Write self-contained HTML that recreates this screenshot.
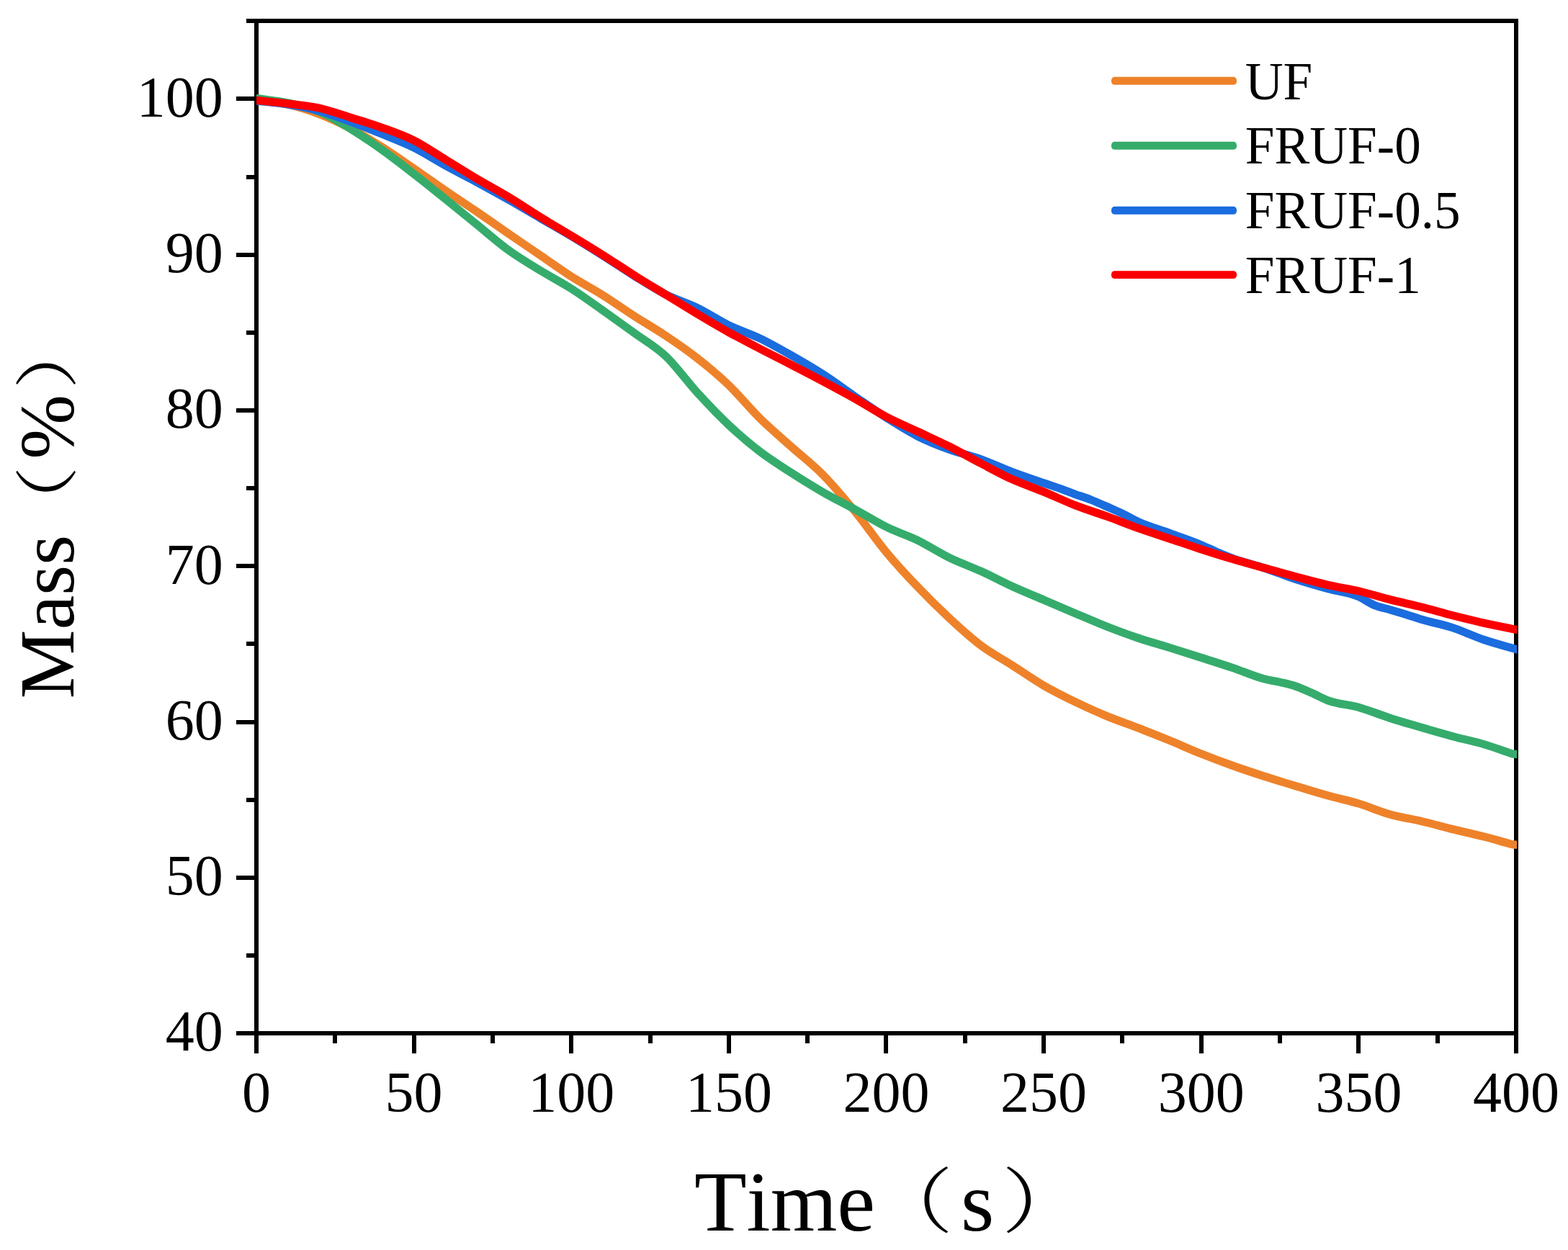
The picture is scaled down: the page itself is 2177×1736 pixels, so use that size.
<!DOCTYPE html>
<html lang="en">
<head>
<meta charset="utf-8">
<title>Mass vs Time</title>
<style>
html,body{margin:0;padding:0;background:#fff;}
body{width:2177px;height:1736px;overflow:hidden;}
svg{display:block;}
text{font-family:"Liberation Serif","Noto Serif CJK SC",serif;fill:#000;font-kerning:none;}
.tick{font-size:80px;}
.leg{font-size:73.2px;}
.cjk{font-family:"Liberation Serif","Noto Serif CJK SC",serif;font-size:100px;}
</style>
</head>
<body>
<svg width="2177" height="1736" viewBox="0 0 2177 1736">
<defs><clipPath id="plot"><rect x="356" y="20" width="1750" height="1420"/></clipPath></defs>
<rect x="0" y="0" width="2177" height="1736" fill="#fff"/>
<g fill="#000" shape-rendering="crispEdges">
<rect x="353" y="26" width="1755" height="6"/>
<rect x="353" y="1432" width="1755" height="6"/>
<rect x="353" y="26" width="6" height="1412"/>
<rect x="2102" y="26" width="6" height="1412"/>
<rect x="328" y="1432" width="25" height="6"/>
<rect x="342" y="1324" width="11" height="6"/>
<rect x="328" y="1216" width="25" height="6"/>
<rect x="342" y="1108" width="11" height="6"/>
<rect x="328" y="1000" width="25" height="6"/>
<rect x="342" y="891" width="11" height="6"/>
<rect x="328" y="783" width="25" height="6"/>
<rect x="342" y="675" width="11" height="6"/>
<rect x="328" y="567" width="25" height="6"/>
<rect x="342" y="459" width="11" height="6"/>
<rect x="328" y="351" width="25" height="6"/>
<rect x="342" y="243" width="11" height="6"/>
<rect x="328" y="134" width="25" height="6"/>
<rect x="342" y="26" width="11" height="6"/>
<rect x="353" y="1438" width="6" height="25"/>
<rect x="462" y="1438" width="6" height="11"/>
<rect x="572" y="1438" width="6" height="25"/>
<rect x="681" y="1438" width="6" height="11"/>
<rect x="790" y="1438" width="6" height="25"/>
<rect x="900" y="1438" width="6" height="11"/>
<rect x="1009" y="1438" width="6" height="25"/>
<rect x="1118" y="1438" width="6" height="11"/>
<rect x="1227" y="1438" width="6" height="25"/>
<rect x="1337" y="1438" width="6" height="11"/>
<rect x="1446" y="1438" width="6" height="25"/>
<rect x="1555" y="1438" width="6" height="11"/>
<rect x="1665" y="1438" width="6" height="25"/>
<rect x="1774" y="1438" width="6" height="11"/>
<rect x="1883" y="1438" width="6" height="25"/>
<rect x="1993" y="1438" width="6" height="11"/>
<rect x="2102" y="1438" width="6" height="25"/>
</g>
<g class="tick">
<text x="309.8" y="161.6" text-anchor="end">100</text>
<text x="309.8" y="377.9" text-anchor="end">90</text>
<text x="309.8" y="594.2" text-anchor="end">80</text>
<text x="309.8" y="810.5" text-anchor="end">70</text>
<text x="309.8" y="1026.8" text-anchor="end">60</text>
<text x="309.8" y="1243.1" text-anchor="end">50</text>
<text x="309.8" y="1459.4" text-anchor="end">40</text>
<text x="356.0" y="1544.3" text-anchor="middle">0</text>
<text x="574.6" y="1544.3" text-anchor="middle">50</text>
<text x="793.2" y="1544.3" text-anchor="middle">100</text>
<text x="1011.9" y="1544.3" text-anchor="middle">150</text>
<text x="1230.5" y="1544.3" text-anchor="middle">200</text>
<text x="1449.1" y="1544.3" text-anchor="middle">250</text>
<text x="1667.8" y="1544.3" text-anchor="middle">300</text>
<text x="1886.4" y="1544.3" text-anchor="middle">350</text>
<text x="2105.0" y="1544.3" text-anchor="middle">400</text>
</g>
<g fill="none" stroke-width="11.2" stroke-linejoin="round" stroke-linecap="butt" clip-path="url(#plot)">
<path stroke="#EE822A" d="M348.0 138.5C350.7 138.8 353.3 139.2 356.0 139.5C370.6 141.3 385.2 141.8 399.7 145.0C414.3 148.2 428.9 152.9 443.4 158.5C458.0 164.1 472.6 170.9 487.2 178.6C501.8 186.3 516.3 195.3 530.9 204.5C545.5 213.7 560.0 224.0 574.6 234.0C589.2 244.0 603.8 254.6 618.4 264.6C632.9 274.6 647.5 284.1 662.1 294.0C676.6 303.9 691.2 314.3 705.8 324.3C720.4 334.3 734.9 344.2 749.5 354.2C764.1 364.1 778.7 374.7 793.2 384.0C807.8 393.3 822.4 400.8 837.0 410.0C851.6 419.2 866.1 429.6 880.7 439.0C895.3 448.4 909.9 456.6 924.4 466.4C939.0 476.1 953.6 486.1 968.1 497.5C982.7 508.9 997.3 521.0 1011.9 535.0C1026.5 549.0 1041.0 567.2 1055.6 581.5C1070.2 595.8 1084.8 607.9 1099.3 621.0C1113.9 634.0 1128.5 645.0 1143.0 659.8C1157.6 674.6 1172.2 692.2 1186.8 710.0C1201.4 727.8 1215.9 749.3 1230.5 766.8C1245.1 784.3 1259.6 799.9 1274.2 815.2C1288.8 830.5 1303.4 844.9 1318.0 858.4C1332.5 871.9 1347.1 885.3 1361.7 896.2C1376.2 907.1 1390.8 914.7 1405.4 924.0C1420.0 933.3 1434.5 943.6 1449.1 952.1C1463.7 960.6 1478.3 967.7 1492.8 974.8C1507.4 981.9 1522.0 988.4 1536.6 994.5C1551.2 1000.5 1565.7 1005.5 1580.3 1011.1C1594.9 1016.8 1609.5 1022.4 1624.0 1028.4C1638.6 1034.4 1653.2 1041.1 1667.8 1046.9C1682.3 1052.7 1696.9 1058.2 1711.5 1063.4C1726.0 1068.6 1740.6 1073.4 1755.2 1078.1C1769.8 1082.8 1784.3 1087.2 1798.9 1091.6C1813.5 1096.0 1828.1 1100.6 1842.7 1104.7C1857.2 1108.8 1871.8 1111.6 1886.4 1116.0C1901.0 1120.4 1915.5 1127.0 1930.1 1131.1C1944.7 1135.2 1959.2 1137.1 1973.8 1140.6C1988.4 1144.0 2003.0 1148.2 2017.5 1151.8C2032.1 1155.4 2046.7 1158.4 2061.3 1162.2C2071.5 1164.8 2081.7 1167.8 2091.9 1170.6C2094.5 1171.3 2097.1 1172.4 2099.8 1172.8C2101.5 1173.1 2103.3 1173.0 2105.0 1173.1C2107.7 1173.3 2110.3 1173.4 2113.0 1173.6"/>
<path stroke="#35AC6C" d="M348.0 135.4C350.7 135.8 353.3 136.2 356.0 136.6C370.6 138.7 385.2 139.8 399.7 142.9C414.3 146.0 428.9 149.0 443.4 155.0C458.0 161.1 472.6 170.3 487.2 179.2C501.8 188.1 516.3 198.0 530.9 208.4C545.5 218.8 560.0 230.2 574.6 241.5C589.2 252.8 603.8 264.7 618.4 276.4C632.9 288.1 647.5 300.1 662.1 311.9C676.6 323.7 691.2 336.7 705.8 347.3C720.4 357.9 734.9 366.4 749.5 375.3C764.1 384.2 778.7 391.6 793.2 400.9C807.8 410.2 822.4 420.9 837.0 431.2C851.6 441.5 866.1 451.9 880.7 462.5C895.3 473.1 909.9 481.0 924.4 494.8C939.0 508.6 953.6 529.4 968.1 545.3C982.7 561.2 997.3 576.6 1011.9 590.3C1026.5 604.0 1041.0 616.4 1055.6 627.5C1070.2 638.6 1084.8 647.6 1099.3 657.0C1113.9 666.4 1128.5 675.4 1143.0 683.8C1157.6 692.2 1172.2 699.3 1186.8 707.3C1201.4 715.3 1215.9 724.6 1230.5 731.8C1245.1 739.0 1259.6 743.4 1274.2 750.5C1288.8 757.6 1303.4 767.4 1318.0 774.5C1332.5 781.6 1347.1 786.6 1361.7 793.2C1376.2 799.8 1390.8 807.6 1405.4 814.3C1420.0 820.9 1434.5 826.9 1449.1 833.1C1463.7 839.4 1478.3 845.6 1492.8 851.8C1507.4 858.0 1522.0 864.4 1536.6 870.1C1551.2 875.8 1565.7 881.2 1580.3 886.1C1594.9 891.0 1609.5 895.0 1624.0 899.5C1638.6 904.0 1653.2 908.6 1667.8 913.3C1682.3 918.0 1696.9 922.6 1711.5 927.5C1726.0 932.4 1740.6 939.2 1755.2 942.9C1762.5 944.8 1769.8 945.7 1777.1 947.4C1784.3 949.1 1791.6 950.6 1798.9 953.1C1806.2 955.6 1813.5 958.9 1820.8 962.1C1828.1 965.3 1835.4 969.6 1842.7 972.4C1857.2 978.1 1871.8 978.1 1886.4 982.3C1901.0 986.4 1915.5 992.6 1930.1 997.3C1944.7 1002.0 1959.2 1006.1 1973.8 1010.4C1988.4 1014.6 2003.0 1018.9 2017.5 1022.8C2032.1 1026.7 2046.7 1029.6 2061.3 1034.0C2071.5 1037.1 2081.7 1040.7 2091.9 1044.2C2094.5 1045.1 2097.1 1046.4 2099.8 1046.9C2101.5 1047.2 2103.3 1047.2 2105.0 1047.3C2107.7 1047.5 2110.3 1047.7 2113.0 1047.9"/>
<path stroke="#1B6CDE" d="M348.0 138.9C350.7 139.2 353.3 139.5 356.0 139.8C370.6 141.5 385.2 142.5 399.7 144.9C414.3 147.3 428.9 149.9 443.4 154.0C458.0 158.1 472.6 163.9 487.2 169.3C501.8 174.7 516.3 180.5 530.9 186.4C545.5 192.3 560.0 197.8 574.6 205.0C589.2 212.2 603.8 221.8 618.4 229.8C632.9 237.8 647.5 245.1 662.1 253.0C676.6 260.9 691.2 268.9 705.8 277.2C720.4 285.5 734.9 294.1 749.5 302.6C764.1 311.1 778.7 319.3 793.2 328.0C807.8 336.7 822.4 345.8 837.0 355.0C851.6 364.2 866.1 374.2 880.7 383.2C895.3 392.2 909.9 401.6 924.4 409.0C939.0 416.4 953.6 420.4 968.1 427.5C982.7 434.6 997.3 444.7 1011.9 451.8C1026.5 458.9 1041.0 463.2 1055.6 470.2C1070.2 477.2 1084.8 485.6 1099.3 493.9C1113.9 502.2 1128.5 510.6 1143.0 520.0C1157.6 529.4 1172.2 540.5 1186.8 550.5C1201.4 560.5 1215.9 570.8 1230.5 580.0C1245.1 589.2 1259.6 598.5 1274.2 605.9C1288.8 613.3 1303.4 618.9 1318.0 624.2C1332.5 629.5 1347.1 632.5 1361.7 637.7C1376.2 642.9 1390.8 650.0 1405.4 655.5C1420.0 661.0 1434.5 665.9 1449.1 670.9C1456.4 673.4 1463.7 675.6 1471.0 678.2C1478.3 680.8 1485.6 683.8 1492.8 686.4C1500.1 689.0 1507.4 691.2 1514.7 694.1C1522.0 697.0 1529.3 700.3 1536.6 703.5C1543.9 706.7 1551.2 709.7 1558.4 713.2C1565.7 716.7 1573.0 721.2 1580.3 724.6C1594.9 731.4 1609.5 735.1 1624.0 740.5C1638.6 745.9 1653.2 750.6 1667.8 756.8C1675.0 759.9 1682.3 763.5 1689.6 766.6C1696.9 769.7 1704.2 772.8 1711.5 775.5C1726.0 780.9 1740.6 784.1 1755.2 788.9C1769.8 793.7 1784.3 799.6 1798.9 804.3C1813.5 809.0 1828.1 813.2 1842.7 817.3C1857.2 821.4 1871.8 822.2 1886.4 828.7C1893.7 832.0 1901.0 837.5 1908.2 840.5C1915.5 843.5 1922.8 844.7 1930.1 846.8C1937.4 848.9 1944.7 851.0 1952.0 853.3C1959.2 855.6 1966.5 858.2 1973.8 860.4C1988.4 864.8 2003.0 867.2 2017.5 872.0C2032.1 876.8 2046.7 884.0 2061.3 888.9C2075.8 893.8 2090.4 897.4 2105.0 901.6C2107.7 902.4 2110.3 903.1 2113.0 903.9"/>
<path stroke="#FB0000" d="M348.0 138.3C350.7 138.6 353.3 138.9 356.0 139.2C370.6 140.8 385.2 142.2 399.7 144.0C414.3 145.8 428.9 146.9 443.4 150.1C458.0 153.3 472.6 158.8 487.2 163.3C501.8 167.9 516.3 172.1 530.9 177.4C545.5 182.7 560.0 187.7 574.6 195.0C589.2 202.3 603.8 212.6 618.4 221.5C632.9 230.4 647.5 239.7 662.1 248.3C676.6 256.9 691.2 264.6 705.8 273.4C720.4 282.2 734.9 292.1 749.5 301.1C764.1 310.1 778.7 318.5 793.2 327.3C807.8 336.1 822.4 345.0 837.0 354.2C851.6 363.4 866.1 373.2 880.7 382.4C895.3 391.6 909.9 400.4 924.4 409.3C939.0 418.2 953.6 427.3 968.1 436.0C982.7 444.7 997.3 453.4 1011.9 461.5C1026.5 469.6 1041.0 477.0 1055.6 484.6C1070.2 492.2 1084.8 499.4 1099.3 506.9C1113.9 514.4 1128.5 521.9 1143.0 529.7C1157.6 537.5 1172.2 545.3 1186.8 553.5C1201.4 561.7 1215.9 571.2 1230.5 578.9C1245.1 586.5 1259.6 592.5 1274.2 599.4C1288.8 606.3 1303.4 612.8 1318.0 620.1C1332.5 627.4 1347.1 635.8 1361.7 643.4C1376.2 651.0 1390.8 659.1 1405.4 665.7C1420.0 672.3 1434.5 677.0 1449.1 683.0C1463.7 689.0 1478.3 696.1 1492.8 701.8C1507.4 707.5 1522.0 711.8 1536.6 717.1C1551.2 722.4 1565.7 728.3 1580.3 733.5C1594.9 738.7 1609.5 743.2 1624.0 748.1C1638.6 753.0 1653.2 758.1 1667.8 762.8C1682.3 767.5 1696.9 772.1 1711.5 776.4C1726.0 780.7 1740.6 784.6 1755.2 788.7C1769.8 792.8 1784.3 797.0 1798.9 800.9C1813.5 804.8 1828.1 808.9 1842.7 812.2C1857.2 815.5 1871.8 817.5 1886.4 820.9C1901.0 824.3 1915.5 829.1 1930.1 832.8C1944.7 836.5 1959.2 839.4 1973.8 843.1C1988.4 846.8 2003.0 851.2 2017.5 854.9C2032.1 858.6 2046.7 862.3 2061.3 865.5C2075.8 868.7 2090.4 871.4 2105.0 874.3C2107.7 874.8 2110.3 875.4 2113.0 875.9"/>
</g>
<g stroke-width="10.9" stroke-linecap="round" fill="none">
<rect x="1543" y="106.85" width="174" height="10.9" rx="4.6" ry="4.6" fill="#EE822A" stroke="none"/>
<rect x="1543" y="196.85" width="174" height="10.9" rx="4.6" ry="4.6" fill="#35AC6C" stroke="none"/>
<rect x="1543" y="286.85" width="174" height="10.9" rx="4.6" ry="4.6" fill="#1B6CDE" stroke="none"/>
<rect x="1543" y="376.15" width="174" height="10.9" rx="4.6" ry="4.6" fill="#FB0000" stroke="none"/>
</g>
<g class="leg">
<text x="1728.7" y="137.5">UF</text>
<text x="1728.7" y="227.4">FRUF-0</text>
<text x="1728.7" y="317.0">FRUF-0.5</text>
<text x="1728.7" y="407.0">FRUF-1</text>
</g>
<g>
<text x="963.9" y="1709" font-size="119px">Time</text>
<text class="cjk" font-weight="300" transform="translate(1208.0,1704.0) scale(1.155,0.99)">（</text>
<text x="1334.1" y="1709" font-size="119px">s</text>
<text class="cjk" font-weight="300" transform="translate(1390.4,1704.0) scale(1.17,0.99)">）</text>
</g>
<g transform="translate(101.8,970.2) rotate(-90)">
<text x="0" y="0" font-size="107.7px">Mass</text>
<text class="cjk" transform="translate(221.6,-4.84) scale(1.012,0.8845)">（</text>
<text x="332.5" y="0" font-size="107.7px">%</text>
<text class="cjk" transform="translate(429.7,-4.84) scale(1.03,0.8845)">）</text>
</g>
</svg>
</body>
</html>
